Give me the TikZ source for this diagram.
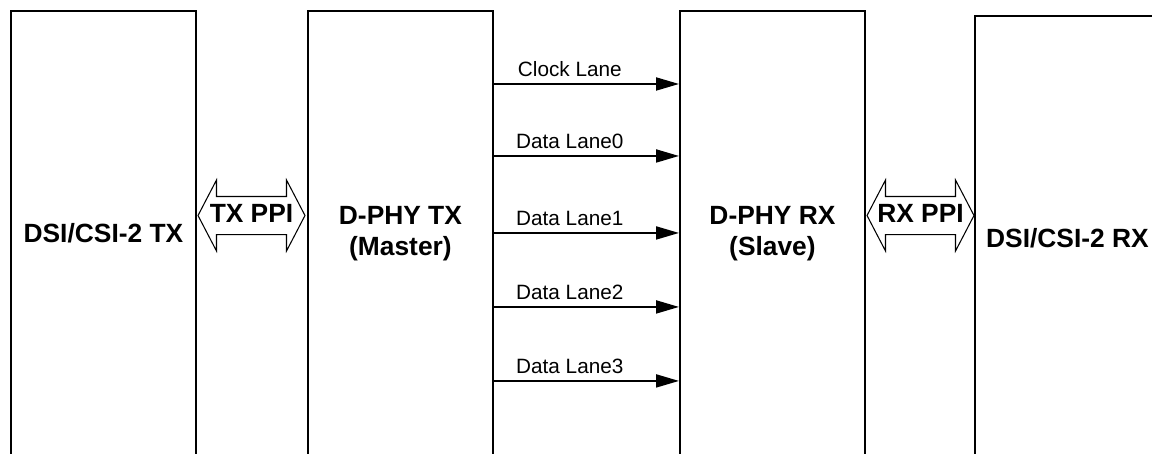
\documentclass[tikz,border=0pt]{standalone}
\usepackage{fontspec}
\setmainfont{Liberation Sans}
\usetikzlibrary{positioning,arrows.meta,shapes.arrows}

\tikzset{
  blk/.style={draw, line width=1.1pt, anchor=north west, minimum width=3.7cm,
              minimum height=8.9cm, align=center,
              font=\fontsize{15}{17.8}\selectfont\bfseries},
  ppi/.style={draw, line width=0.6pt, double arrow, double arrow head extend=0.33cm,
              double arrow tip angle=125, minimum height=2.14cm, inner sep=0pt,
              text height=0.514cm, text depth=0.226cm,
              font=\fontsize{15}{17.8}\selectfont\bfseries},
  lane/.style={-{Triangle[length=0.46cm, width=0.26cm]}, line width=1.1pt},
}

\begin{document}
\begin{tikzpicture}[x=0.02cm, y=-0.02cm]
\useasboundingbox (0,0) rectangle (1152,453);
\clip (0,0) rectangle (1152,453);
% the four blocks
\node[blk] (dsitx)  at (10,10)  {DSI/CSI-2 TX};
\node[blk] (dphytx) at (307,10) {D-PHY TX\\(Master)};
\node[blk] (dphyrx) at (679,10) {D-PHY RX\\(Slave)};
\node[blk] (dsirx)  at (974,15) {DSI/CSI-2 RX};
% parallel interfaces
\node[ppi] (txppi) at (251.5,215.5) {\makebox[1.2cm]{TX PPI}};
\node[ppi] (rxppi) at (920.5,215.5) {\makebox[1.2cm]{RX PPI}};
% lanes
\foreach \d/\t in {1.48/Clock Lane, 2.92/Data Lane0, 4.46/Data Lane1,
                   5.94/Data Lane2, 7.42/Data Lane3}
  \draw[lane] ([yshift=-\d cm]dphytx.north east) -- ([yshift=-\d cm]dphyrx.north west)
    node[pos=0.41, above, font=\fontsize{11.8}{14}\selectfont] {\t};
\end{tikzpicture}
\end{document}
